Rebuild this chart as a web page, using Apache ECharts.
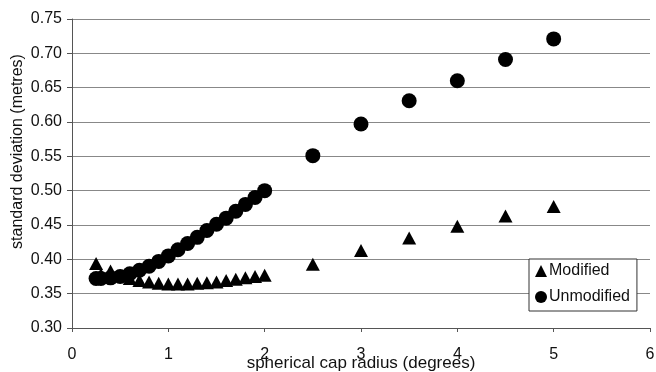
<!DOCTYPE html>
<html>
<head>
<meta charset="utf-8">
<script src="https://cdn.jsdelivr.net/npm/echarts@6/dist/echarts.min.js"></script>
<style>
  html, body { margin: 0; padding: 0; background: #fff; }
  #chart { width: 656px; height: 372px; }
</style>
</head>
<body>
<div id="chart"></div>
<script>
// spherical cap radius (degrees)
var capRadius = [0.25, 0.3, 0.4, 0.5, 0.6, 0.7, 0.8, 0.9, 1.0, 1.1, 1.2, 1.3, 1.4, 1.5,
                 1.6, 1.7, 1.8, 1.9, 2.0, 2.5, 3.0, 3.5, 4.0, 4.5, 5.0];
// standard deviation (metres)
var modified = [0.394, 0.378, 0.383, 0.376, 0.372, 0.369, 0.367, 0.365, 0.364, 0.364, 0.364, 0.365, 0.366, 0.367,
                0.369, 0.371, 0.373, 0.375, 0.377, 0.393, 0.413, 0.431, 0.448, 0.463, 0.477];
var unmodified = [0.372, 0.372, 0.373, 0.375, 0.379, 0.384, 0.390, 0.397, 0.405, 0.414, 0.423, 0.432, 0.442, 0.451,
                  0.460, 0.470, 0.480, 0.490, 0.500, 0.551, 0.597, 0.631, 0.660, 0.691, 0.721];
var xTicks = [0, 6, 1];       // min, max, interval
var yTicks = [0.30, 0.75, 0.05];

function pairs(xs, ys) {
    var out = [];
    for (var i = 0; i < xs.length; i++) out.push([xs[i], ys[i]]);
    return out;
}

var font = 'Arial, "Liberation Sans", sans-serif';
var chart = echarts.init(document.getElementById('chart'));
chart.setOption({
    animation: false,
    backgroundColor: '#fff',
    textStyle: { fontFamily: font, color: '#111' },
    grid: { left: 72, top: 19, width: 578, height: 309, containLabel: false, outerBoundsMode: 'none' },
    legend: {
        orient: 'vertical',
        left: 529,
        top: 259,
        padding: [4, 7, 6, 6],
        itemGap: 10,
        itemWidth: 12,
        itemHeight: 12,
        backgroundColor: '#fff',
        borderColor: '#333',
        borderWidth: 1,
        borderRadius: 0,
        textStyle: { fontFamily: font, fontSize: 16, color: '#111', padding: [0, 0, 0, -3] },
        data: [
            { name: 'Modified', icon: 'triangle' },
            { name: 'Unmodified', icon: 'circle' }
        ]
    },
    xAxis: {
        type: 'value',
        min: xTicks[0],
        max: xTicks[1],
        interval: xTicks[2],
        name: 'spherical cap radius (degrees)',
        nameLocation: 'middle',
        nameGap: 27,
        nameMoveOverlap: false,
        nameTextStyle: { fontFamily: font, fontSize: 17, color: '#111' },
        axisLine: { lineStyle: { color: '#555', width: 1 } },
        axisTick: { show: true, inside: false, length: 4, lineStyle: { color: '#555' } },
        axisLabel: { fontFamily: font, fontSize: 16, color: '#111', margin: 19 },
        splitLine: { show: false }
    },
    yAxis: {
        type: 'value',
        min: yTicks[0],
        max: yTicks[1],
        interval: yTicks[2],
        name: 'standard deviation (metres)',
        nameLocation: 'middle',
        nameGap: 46,
        nameMoveOverlap: false,
        nameTextStyle: { fontFamily: font, fontSize: 16, color: '#111', padding: [0, 0, 0, 44] },
        axisLine: { show: true, lineStyle: { color: '#555', width: 1 } },
        axisTick: { show: true, inside: false, length: 5, lineStyle: { color: '#555' } },
        axisLabel: {
            fontFamily: font, fontSize: 16, color: '#111', margin: 10,
            formatter: function (v) { return v.toFixed(2); }
        },
        splitLine: { show: true, lineStyle: { color: '#888', width: 1 } }
    },
    series: [
        {
            name: 'Modified',
            type: 'scatter',
            symbol: 'triangle',
            symbolSize: [14, 13],
            itemStyle: { color: '#000', opacity: 1 },
            data: pairs(capRadius, modified)
        },
        {
            name: 'Unmodified',
            type: 'scatter',
            symbol: 'circle',
            symbolSize: 15,
            itemStyle: { color: '#000', opacity: 1 },
            data: pairs(capRadius, unmodified)
        }
    ]
});
</script>
</body>
</html>
